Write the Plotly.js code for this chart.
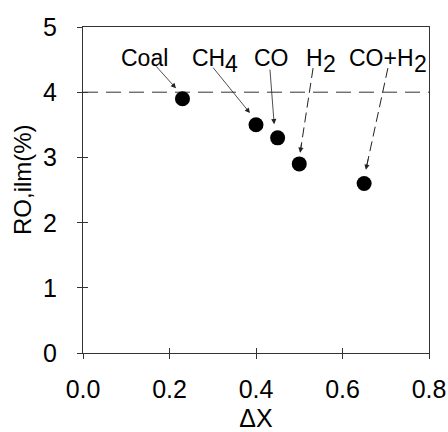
<!DOCTYPE html>
<html>
<head>
<meta charset="utf-8">
<script src="https://cdn.plot.ly/plotly-3.0.1.min.js"></script>
<style>html,body{margin:0;padding:0;background:#fff;}#chart{width:448px;height:432px;}</style>
</head>
<body>
<div id="chart"></div>
<script>
// Data
const labels = ['Coal', 'CH', 'CO', 'H', 'CO+H'];
const labelSubs = ['', '4', '', '2', '2'];
const deltaX = [0.23, 0.40, 0.45, 0.50, 0.65];
const ro = [3.9, 3.5, 3.3, 2.9, 2.6];
const refLevel = 4;
const xTicks = [0.0, 0.2, 0.4, 0.6, 0.8];
const yTicks = [0, 1, 2, 3, 4, 5];

// Annotation placement (label anchor and arrow tails/heads, in data units)
const labelX = [0.143, 0.328, 0.435, 0.555, 0.765];
const labelY = [4.53, 4.53, 4.53, 4.53, 4.53];
const tailX = [0.166, 0.298, 0.432, 0.532, 0.705];
const tailY = [4.42, 4.40, 4.37, 4.37, 4.37];
const headX = [0.215, 0.386, 0.442, 0.502, 0.654];
const headY = [4.06, 3.68, 3.51, 3.07, 2.81];
const arrowDash = ['solid', 'solid', 'solid', '10px,5px', '10px,5px'];

const FONT = 'Liberation Sans, Arial, sans-serif';
const AX = '#333333';

const traces = [{
  x: deltaX, y: ro, type: 'scatter', mode: 'markers',
  marker: {size: 15, color: '#000000', line: {width: 0}},
  showlegend: false, hoverinfo: 'x+y'
}];

const shapes = [{
  type: 'line', xref: 'paper', x0: 0, x1: 1, yref: 'y', y0: refLevel, y1: refLevel,
  line: {color: AX, width: 1, dash: '15px,8px'}, layer: 'below'
}];
const annotations = [{
  xref: 'paper', yref: 'paper', x: -0.173, y: 0.531, text: 'RO,ilm(%)', textangle: -90,
  showarrow: false, xanchor: 'center', yanchor: 'middle',
  font: {family: FONT, size: 24, color: '#000'}
}];
// y tick labels (values from yTicks, placed by the y scale)
yTicks.forEach(v => annotations.push({
  xref: 'paper', yref: 'y', x: -0.075, y: v, text: String(v),
  showarrow: false, xanchor: 'right', yanchor: 'middle', borderpad: 0, borderwidth: 0,
  font: {family: FONT, size: 25, color: '#000'}
}));
for (let i = 0; i < labels.length; i++) {
  const hasSub = labelSubs[i] !== '';
  annotations.push({
    x: labelX[i], y: labelY[i], xref: 'x', yref: 'y', text: labels[i],
    showarrow: false, font: {family: FONT, size: 23, color: '#000'},
    xanchor: hasSub ? 'right' : 'center', yanchor: 'middle', borderpad: 0, xshift: hasSub ? 1 : 0
  });
  if (hasSub) {
    annotations.push({
      x: labelX[i], y: labelY[i], xref: 'x', yref: 'y', text: labelSubs[i],
      showarrow: false, font: {family: FONT, size: 23, color: '#000'},
      xanchor: 'left', yanchor: 'middle', borderpad: 0, yshift: -6, xshift: -1
    });
  }
  if (arrowDash[i] === 'solid') {
    annotations.push({
      x: headX[i], y: headY[i], xref: 'x', yref: 'y',
      ax: tailX[i], ay: tailY[i], axref: 'x', ayref: 'y',
      text: '', showarrow: true, arrowhead: 2, arrowsize: 1.3, arrowwidth: 0.8,
      arrowcolor: '#222', standoff: 0, startstandoff: 0
    });
  } else {
    shapes.push({
      type: 'line', xref: 'x', yref: 'y',
      x0: tailX[i], y0: tailY[i], x1: headX[i], y1: headY[i],
      line: {color: '#222', width: 1, dash: arrowDash[i]}
    });
    const f = 0.12;
    annotations.push({
      x: headX[i], y: headY[i], xref: 'x', yref: 'y',
      ax: headX[i] + (tailX[i] - headX[i]) * f, ay: headY[i] + (tailY[i] - headY[i]) * f,
      axref: 'x', ayref: 'y',
      text: '', showarrow: true, arrowhead: 2, arrowsize: 1.3, arrowwidth: 0.8,
      arrowcolor: '#222', standoff: 0, startstandoff: 0
    });
  }
}

const layout = {
  width: 448, height: 432,
  margin: {l: 83, r: 19, t: 27, b: 79},
  paper_bgcolor: '#fff', plot_bgcolor: '#fff',
  font: {family: FONT, size: 25, color: '#000'},
  showlegend: false,
  xaxis: {
    range: [0, 0.8], tickvals: xTicks, ticktext: xTicks.map(v => v.toFixed(1)),
    ticks: 'outside', ticklen: 5, tickwidth: 1, tickcolor: AX,
    showline: true, linecolor: AX, linewidth: 1, mirror: true,
    showgrid: false, zeroline: false, ticklabelstandoff: 9,
    tickfont: {family: FONT, size: 25, color: '#000'},
    title: {text: 'ΔX', font: {family: FONT, size: 25, color: '#000'}, standoff: 10}
  },
  yaxis: {
    range: [0, 5], tickvals: yTicks, showticklabels: false,
    ticks: 'outside', ticklen: 5, tickwidth: 1, tickcolor: AX,
    showline: true, linecolor: AX, linewidth: 1, mirror: true,
    showgrid: false, zeroline: false
  },
  xaxis2: {
    overlaying: 'x', matches: 'x', anchor: 'y', side: 'bottom',
    range: [0, 0.8], tickvals: xTicks, ticks: 'inside', ticklen: 5, tickwidth: 1, tickcolor: AX,
    showticklabels: false, showgrid: false, zeroline: false, showline: false
  },
  yaxis2: {
    overlaying: 'y', matches: 'y', anchor: 'x', side: 'left',
    range: [0, 5], tickvals: yTicks, ticks: 'inside', ticklen: 5, tickwidth: 1, tickcolor: AX,
    showticklabels: false, showgrid: false, zeroline: false, showline: false
  },
  shapes: shapes,
  annotations: annotations
};

traces.push({x: [], y: [], xaxis: 'x2', yaxis: 'y2', type: 'scatter', mode: 'markers', showlegend: false, hoverinfo: 'skip'});

Plotly.newPlot('chart', traces, layout, {staticPlot: true, displayModeBar: false});
</script>
</body>
</html>
